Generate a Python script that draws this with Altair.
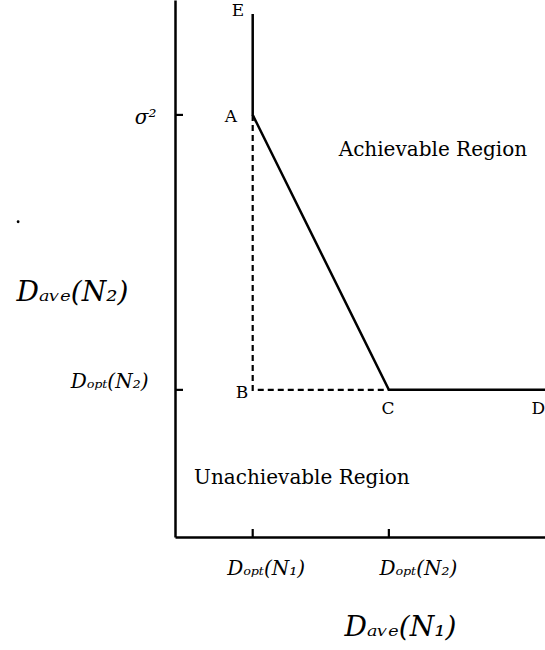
import altair as alt
import pandas as pd

# Tick positions (arbitrary distortion units) and their labels
x_ticks = [2.1, 5.78]            # D_opt(N1), D_opt(N2) on the horizontal axis
x_tick_labels = ["Dₒₚₜ(N₁)", "Dₒₚₜ(N₂)"]
y_ticks = [2.74, 7.86]           # D_opt(N2), sigma^2 on the vertical axis
y_tick_labels = ["Dₒₚₜ(N₂)", "σ²"]

# Boundary of the achievable region: E -> A -> C -> D
bound_x = [2.1, 2.1, 5.78, 10.0]
bound_y = [9.74, 7.86, 2.74, 2.74]

# Construction lines: A -> B -> C
guide_x = [2.1, 2.1, 5.78]
guide_y = [7.86, 2.74, 2.74]

# Point names and where they sit
point_names = ["E", "A", "B", "C", "D"]
point_x = [1.70, 1.51, 1.81, 5.76, 9.82]
point_y = [9.80, 7.82, 2.68, 2.38, 2.38]

# Region captions
region_names = ["Achievable Region", "Unachievable Region"]
region_x = [6.97, 3.43]
region_y = [7.21, 1.10]

# Small speck to the left of the vertical axis
speck_x = [-4.24]
speck_y = [5.87]

PLOT_W, PLOT_H = 370, 537
TICK_LEN = 8
SERIF = "DejaVu Serif"

x_scale = alt.Scale(domain=[0, 10], nice=False, zero=False)
y_scale = alt.Scale(domain=[0, 10], nice=False, zero=False)


def label_expr(values, labels):
    mid = (values[0] + values[1]) / 2
    return f"datum.value < {mid} ? '{labels[0]}' : '{labels[1]}'"


def by_tick(values, first, second):
    mid = (values[0] + values[1]) / 2
    return {"condition": {"test": f"datum.value < {mid}", "value": first}, "value": second}


x_axis = alt.Axis(
    values=x_ticks, labelExpr=label_expr(x_ticks, x_tick_labels),
    ticks=False, grid=False, domainColor="black", domainWidth=2.5,
    labelFont=SERIF, labelFontStyle="italic", labelFontSize=20, labelColor="black",
    labelBaseline="alphabetic", labelAlign="center", labelPadding=37,
    labelOffset=by_tick(x_ticks, 13, 29), labelFlush=False, labelOverlap=False,
    title="Dₐᵥₑ(N₁)", titleFont=SERIF, titleFontStyle="italic", titleFontWeight="normal",
    titleFontSize=28, titleColor="black", titleX=225, titleY=98,
    titleAlign="center", titleBaseline="alphabetic",
)

y_axis = alt.Axis(
    values=y_ticks, labelExpr=label_expr(y_ticks, y_tick_labels),
    ticks=False, grid=False, domainColor="black", domainWidth=2.5,
    labelFont=SERIF, labelFontStyle="italic", labelFontSize=20, labelColor="black",
    labelBaseline="alphabetic", labelAlign="right",
    labelPadding=by_tick(y_ticks, 27, 19), labelOffset=by_tick(y_ticks, -2, 9),
    labelFlush=False, labelOverlap=False,
    title="Dₐᵥₑ(N₂)", titleFont=SERIF, titleFontStyle="italic", titleFontWeight="normal",
    titleFontSize=28, titleColor="black", titleAngle=0, titleX=-103, titleY=300,
    titleAlign="center", titleBaseline="alphabetic",
)

X = alt.X("x:Q", scale=x_scale, axis=x_axis)
Y = alt.Y("y:Q", scale=y_scale, axis=y_axis)

bound_df = pd.DataFrame({"x": bound_x, "y": bound_y, "order": range(len(bound_x))})
guide_df = pd.DataFrame({"x": guide_x, "y": guide_y, "order": range(len(guide_x))})
points_df = pd.DataFrame({"name": point_names, "x": point_x, "y": point_y})
regions_df = pd.DataFrame({"name": region_names, "x": region_x, "y": region_y})
xt_df = pd.DataFrame({"x": x_ticks})
yt_df = pd.DataFrame({"y": y_ticks})
speck_df = pd.DataFrame({"x": speck_x, "y": speck_y})

boundary = alt.Chart(bound_df).mark_line(color="black", strokeWidth=2.5).encode(
    x=X, y=Y, order="order:O",
)

guides = alt.Chart(guide_df).mark_line(
    color="black", strokeWidth=2.2, strokeDash=[6, 4]
).encode(x=X, y=Y, order="order:O")

# Inward-pointing axis ticks
x_tick_marks = alt.Chart(xt_df).mark_rule(color="black", strokeWidth=2.2).encode(
    x=X,
    y=alt.value(PLOT_H),
    y2=alt.value(PLOT_H - TICK_LEN),
)
y_tick_marks = alt.Chart(yt_df).mark_rule(color="black", strokeWidth=2.2).encode(
    y=Y,
    x=alt.value(0),
    x2=alt.value(TICK_LEN),
)

point_labels = alt.Chart(points_df).mark_text(
    font=SERIF, fontSize=17, color="black", align="center", baseline="middle"
).encode(x=X, y=Y, text="name:N")

region_labels = alt.Chart(regions_df).mark_text(
    font=SERIF, fontSize=20, color="black", align="center", baseline="middle"
).encode(x=X, y=Y, text="name:N")

speck = alt.Chart(speck_df).mark_circle(color="black", size=8, opacity=1).encode(
    x=X, y=Y,
)

chart = alt.layer(
    boundary, guides, x_tick_marks, y_tick_marks, point_labels, region_labels, speck
).properties(
    width=PLOT_W,
    height=PLOT_H,
    autosize=alt.AutoSizeParams(type="none"),
    padding={"left": 175, "top": 0, "right": 0, "bottom": 113},
    background="white",
).configure_view(stroke=None)

chart.save("out.html", embed_options={"renderer": "svg", "actions": False})
